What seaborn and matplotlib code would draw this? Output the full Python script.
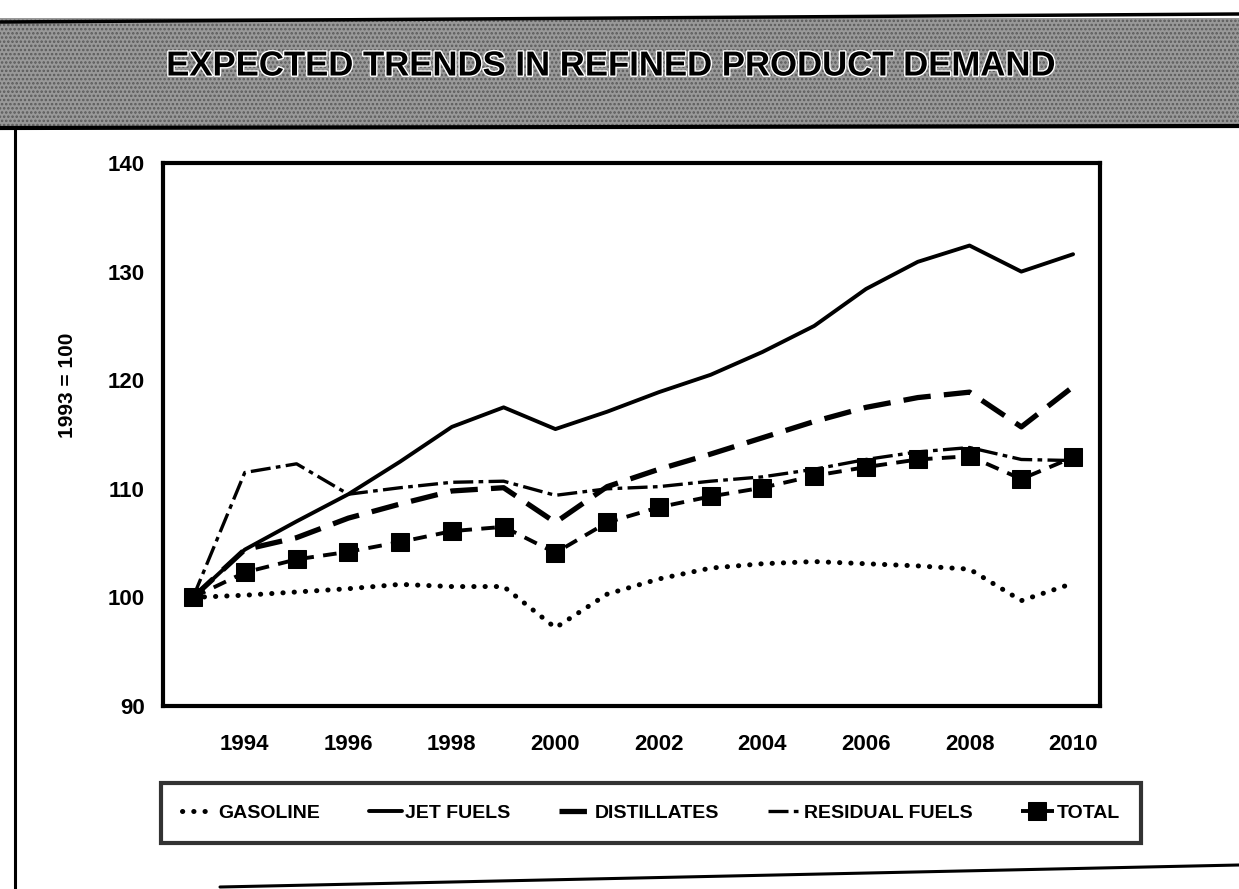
import numpy as np
import pandas as pd
import matplotlib
matplotlib.use("Agg")
import matplotlib.pyplot as plt
import matplotlib.patheffects as pe
from matplotlib.patches import Rectangle
from matplotlib.lines import Line2D
import seaborn as sns

# ---------------- data ----------------
years = list(range(1993, 2011))
gasoline = [100.0, 100.2, 100.5, 100.8, 101.2, 101.0, 101.0, 97.2, 100.3, 101.7,
            102.7, 103.1, 103.3, 103.1, 102.9, 102.6, 99.7, 101.3]
jet_fuels = [100.0, 104.4, 107.0, 109.5, 112.5, 115.7, 117.5, 115.5, 117.1, 118.9,
             120.5, 122.6, 125.0, 128.4, 130.9, 132.4, 130.0, 131.6]
distillates = [100.0, 104.4, 105.5, 107.3, 108.6, 109.8, 110.1, 106.9, 110.2, 111.8,
               113.2, 114.7, 116.2, 117.5, 118.4, 118.9, 115.7, 119.4]
residual_fuels = [100.0, 111.5, 112.3, 109.5, 110.1, 110.6, 110.7, 109.4, 110.0, 110.2,
                  110.7, 111.1, 111.8, 112.7, 113.4, 113.8, 112.7, 112.6]
total = [100.0, 102.3, 103.5, 104.2, 105.1, 106.1, 106.5, 104.1, 106.9, 108.3,
         109.3, 110.1, 111.2, 112.0, 112.7, 113.0, 110.9, 112.9]
series_names = ["GASOLINE", "JET FUELS", "DISTILLATES", "RESIDUAL FUELS", "TOTAL"]
y_ticks = [90, 100, 110, 120, 130, 140]
title_text = "EXPECTED TRENDS IN REFINED PRODUCT DEMAND"
y_label = "1993 = 100"

# ---------------- style ----------------
sns.set_theme(style="white")
plt.rcParams["font.family"] = ["Liberation Sans", "DejaVu Sans"]
plt.rcParams["font.weight"] = "bold"
plt.rcParams["hatch.linewidth"] = 1.2
for k in ["text.color", "axes.labelcolor", "xtick.color", "ytick.color"]:
    plt.rcParams[k] = "black"

fig = plt.figure(figsize=(12.39, 8.89), dpi=100)
fig.patch.set_facecolor("white")

W, H = 1239.0, 889.0

def fx(x):
    return x / W

def fy(y):
    return 1 - y / H

# banner
fig.patches.append(Rectangle((0, fy(128)), 1, fy(18) - fy(128), transform=fig.transFigure,
                             facecolor="#999999", edgecolor="none", zorder=0))
fig.patches.append(Rectangle((0, fy(128)), 1, fy(18) - fy(128), transform=fig.transFigure,
                             facecolor="none", edgecolor="#5a5a5a", hatch="....", lw=0, zorder=0))
fig.add_artist(Line2D([0, 1], [fy(128), fy(126)], transform=fig.transFigure, color="black", lw=3))
fig.add_artist(Line2D([0, 1], [fy(22), fy(14)], transform=fig.transFigure, color="black", lw=2.5))
fig.text(fx(612), fy(66), title_text, ha="center", va="center", fontsize=25, fontweight="bold",
         color="black", path_effects=[pe.Stroke(linewidth=2.0, foreground="white"), pe.Normal()])

# outer frame
fig.add_artist(Line2D([fx(15), fx(15)], [fy(128), 0], transform=fig.transFigure, color="black", lw=2.2))
fig.add_artist(Line2D([fx(220), 1], [fy(887), fy(865)], transform=fig.transFigure, color="black", lw=2.2))

# ---------------- axes ----------------
ax = fig.add_axes([fx(163), fy(706), fx(1100) - fx(163), fy(163) - fy(706)])
ax.set_facecolor("white")

df = pd.DataFrame({"year": years, "GASOLINE": gasoline, "JET FUELS": jet_fuels,
                   "DISTILLATES": distillates, "RESIDUAL FUELS": residual_fuels, "TOTAL": total})

sns.lineplot(data=df, x="year", y="GASOLINE", ax=ax, color="black", lw=3.6,
             linestyle=(0, (0.05, 2.2)), dash_capstyle="round", label="GASOLINE")
sns.lineplot(data=df, x="year", y="JET FUELS", ax=ax, color="black", lw=2.8,
             linestyle="-", label="JET FUELS")
sns.lineplot(data=df, x="year", y="DISTILLATES", ax=ax, color="black", lw=3.8,
             linestyle=(0, (5.2, 2.5)), label="DISTILLATES")
sns.lineplot(data=df, x="year", y="RESIDUAL FUELS", ax=ax, color="black", lw=2.4,
             linestyle=(0, (6, 1.6, 1.4, 1.6)), label="RESIDUAL FUELS")
sns.lineplot(data=df, x="year", y="TOTAL", ax=ax, color="black", lw=2.8,
             linestyle=(0, (3.5, 2.4)), marker="s", markersize=13, markeredgecolor="black",
             markerfacecolor="black", label="TOTAL")

ax.set_xlim(1992.42, 2010.52)
ax.set_ylim(90, 140)
ax.set_xticks(years)
ax.set_xticklabels([str(y) if y % 2 == 0 else "" for y in years])
ax.set_yticks(y_ticks)
ax.set_yticklabels([str(v) for v in y_ticks])
ax.tick_params(axis="both", direction="in", length=8, width=2.5, labelsize=16, color="black")
ax.tick_params(axis="x", pad=20)
ax.tick_params(axis="y", pad=13)
for lab in ax.get_xticklabels() + ax.get_yticklabels():
    lab.set_fontweight("bold")
for s in ax.spines.values():
    s.set_visible(True)
    s.set_color("black")
    s.set_linewidth(3)
ax.set_xlabel("")
ax.set_ylabel(y_label, fontsize=15, fontweight="bold")
ax.yaxis.set_label_coords(-0.092, 0.59)
ax.grid(False)

leg = ax.legend(loc="center", bbox_to_anchor=(0.521, -0.197), ncol=5, frameon=True,
                fancybox=False, edgecolor="black", handlelength=1.7,
                handletextpad=0.15, columnspacing=2.5, borderpad=1.1,
                prop={"weight": "bold", "size": 14})
leg.get_frame().set_linewidth(3)
for t in leg.get_texts():
    t.set_color("black")

fig.savefig("out.png", dpi=100, facecolor="white")
